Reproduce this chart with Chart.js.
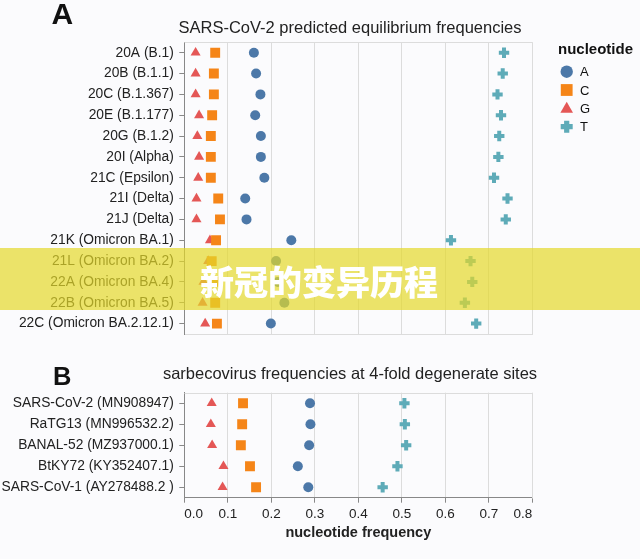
<!DOCTYPE html>
<html>
<head>
<meta charset="utf-8">
<script src="https://cdn.jsdelivr.net/npm/chart.js@4"></script>
<style>
html,body{margin:0;padding:0;width:640px;height:559px;overflow:hidden;background:#fbfbfd;font-family:"Liberation Sans",Arial,sans-serif;}
#wrap{position:relative;width:640px;height:559px;overflow:hidden;}
canvas{position:absolute;left:0;}
#cA{top:0;}
#cB{top:350px;}
#banner{position:absolute;left:0;top:248px;width:640px;height:62px;background:rgba(228,216,42,0.7);z-index:5;}
#bannerText{position:absolute;left:200px;top:264px;font-family:"Noto Sans CJK SC",sans-serif;font-weight:900;font-size:34px;line-height:34px;color:#fff;z-index:6;white-space:nowrap;}
#overlay{position:absolute;left:0;top:0;z-index:3;}
</style>
</head>
<body>
<div id="wrap">
<canvas id="cA" width="640" height="348"></canvas>
<canvas id="cB" width="640" height="209"></canvas>
<svg id="overlay" width="640" height="559"></svg>
<div id="banner"></div>
<div id="bannerText">新冠的变异历程</div>
</div>
<script>
// ---- data ----
const nucleotides = ['A', 'C', 'G', 'T'];
const nucleotideColors = ['#4c78a8', '#f58518', '#e45756', '#5eabb8'];

const categoriesA = ['20A (B.1)', '20B (B.1.1)', '20C (B.1.367)', '20E (B.1.177)', '20G (B.1.2)', '20I (Alpha)', '21C (Epsilon)', '21I (Delta)', '21J (Delta)', '21K (Omicron BA.1)', '21L (Omicron BA.2)', '22A (Omicron BA.4)', '22B (Omicron BA.5)', '22C (Omicron BA.2.12.1)'];
const freqA_A = [0.160, 0.165, 0.175, 0.163, 0.176, 0.176, 0.184, 0.140, 0.143, 0.246, 0.211, 0.215, 0.230, 0.199];
const freqA_C = [0.071, 0.068, 0.068, 0.064, 0.061, 0.061, 0.061, 0.078, 0.082, 0.073, 0.063, 0.067, 0.071, 0.075];
const freqA_G = [0.026, 0.026, 0.026, 0.034, 0.030, 0.034, 0.032, 0.028, 0.028, 0.059, 0.055, 0.044, 0.042, 0.048];
const freqA_T = [0.735, 0.732, 0.720, 0.728, 0.724, 0.722, 0.712, 0.743, 0.739, 0.613, 0.658, 0.662, 0.645, 0.671];

const categoriesB = ['SARS-CoV-2 (MN908947)', 'RaTG13 (MN996532.2)', 'BANAL-52 (MZ937000.1)', 'BtKY72 (KY352407.1)', 'SARS-CoV-1 (AY278488.2 )'];
const freqB_A = [0.289, 0.290, 0.287, 0.261, 0.285];
const freqB_C = [0.135, 0.133, 0.130, 0.151, 0.165];
const freqB_G = [0.063, 0.061, 0.064, 0.090, 0.088];
const freqB_T = [0.506, 0.507, 0.510, 0.490, 0.456];

const xTickValues = [0.0, 0.1, 0.2, 0.3, 0.4, 0.5, 0.6, 0.7, 0.8];
const titleA = 'SARS-CoV-2 predicted equilibrium frequencies';
const titleB = 'sarbecovirus frequencies at 4-fold degenerate sites';
const xAxisTitle = 'nucleotide frequency';
const legendTitle = 'nucleotide';
const panelLabels = ['A', 'B'];

// ---- styling ----
const FONT = '"Liberation Sans", Arial, sans-serif';
const pointStyles = ['circle', 'rect', 'triangle', 'cross'];
const pointRadii = [5, 7, 5.8, 5.2];
const PLOT_LEFT = 184.3, PLOT_RIGHT = 532.3, CANVAS_W = 640, TITLE_CENTER = 350;

function buildDatasets(cats, seriesList) {
  return seriesList.map((vals, i) => ({
    label: nucleotides[i],
    data: vals.map((v, j) => ({ x: v, y: cats[j] })),
    showLine: false,
    pointStyle: pointStyles[i],
    pointRadius: pointRadii[i],
    backgroundColor: nucleotideColors[i],
    borderColor: nucleotideColors[i],
    borderWidth: i === 3 ? 4 : 0,
    order: i
  }));
}

const framePlugin = {
  id: 'frame',
  beforeDatasetsDraw(chart) {
    const { ctx, chartArea: a } = chart;
    ctx.save();
    ctx.strokeStyle = '#dcdcdc';
    ctx.lineWidth = 1;
    ctx.beginPath();
    ctx.moveTo(Math.round(a.left) + 0.5, Math.round(a.top) + 0.5);
    ctx.lineTo(Math.round(a.right) + 0.5, Math.round(a.top) + 0.5);
    ctx.lineTo(Math.round(a.right) + 0.5, Math.round(a.bottom) + 0.5);
    ctx.stroke();
    ctx.restore();
  }
};

// title drawn centred at a fixed x (the original's title is offset from the plot centre)
const panelTitlePlugin = {
  id: 'panelTitle',
  afterDraw(chart, args, opts) {
    const ctx = chart.ctx;
    ctx.save();
    ctx.font = '16.5px ' + FONT;
    ctx.fillStyle = '#222';
    ctx.textAlign = 'center';
    ctx.textBaseline = 'alphabetic';
    ctx.fillText(opts.text, opts.x, opts.baseline);
    ctx.restore();
  }
};

function makeChart(id, cats, seriesList, title, titleBaseline, plotTop, showXAxis, xHeight) {
  return new Chart(document.getElementById(id), {
    type: 'line',
    data: { datasets: buildDatasets(cats, seriesList) },
    plugins: [framePlugin, panelTitlePlugin],
    options: {
      responsive: false,
      animation: false,
      events: [],
      layout: { padding: { left: 0, right: CANVAS_W - PLOT_RIGHT, top: plotTop, bottom: 0 } },
      plugins: {
        legend: { display: false },
        tooltip: { enabled: false },
        title: { display: false },
        panelTitle: { text: title, x: TITLE_CENTER, baseline: titleBaseline }
      },
      scales: {
        x: {
          type: 'linear', min: 0, max: 0.8,
          afterBuildTicks: (s) => { s.ticks = xTickValues.map(v => ({ value: v })); },
          afterFit: (s) => { s.height = xHeight; },
          grid: { color: '#dcdcdc', drawTicks: showXAxis, tickLength: 5, tickColor: '#888' },
          border: { color: showXAxis ? '#888' : '#dcdcdc' },
          ticks: {
            display: showXAxis, color: '#222', padding: 3, align: 'inner', maxRotation: 0, autoSkip: false,
            font: { family: FONT, size: 13.5 },
            callback: (v) => Number(v).toFixed(1)
          },
          title: {
            display: showXAxis, text: xAxisTitle, color: '#222',
            font: { family: FONT, size: 14.5, weight: 'bold' },
            padding: { top: 2, bottom: 17.3 }
          }
        },
        y: {
          type: 'category', labels: cats, offset: true,
          afterFit: (s) => { s.width = PLOT_LEFT; },
          grid: { drawOnChartArea: false, drawTicks: true, tickLength: 5, color: '#888' },
          border: { color: '#888' },
          ticks: { color: '#222', padding: 5.5, autoSkip: false, font: { family: FONT, size: 13.8 } }
        }
      }
    }
  });
}

makeChart('cA', categoriesA, [freqA_A, freqA_C, freqA_G, freqA_T], titleA, 33.3, 42.3, false, 14);
makeChart('cB', categoriesB, [freqB_A, freqB_C, freqB_G, freqB_T], titleB, 29.3, 42.7, true, 61.3);

// ---- panel letters + legend (SVG text) ----
(function () {
  const svg = document.getElementById('overlay');
  const NS = 'http://www.w3.org/2000/svg';
  function txt(x, y, s, size, weight, fill) {
    const t = document.createElementNS(NS, 'text');
    t.setAttribute('x', x); t.setAttribute('y', y);
    t.setAttribute('font-family', 'Liberation Sans, Arial, sans-serif');
    t.setAttribute('font-size', size); t.setAttribute('font-weight', weight); t.setAttribute('fill', fill);
    t.textContent = s;
    svg.appendChild(t);
  }
  txt(51.5, 24, panelLabels[0], 30, 'bold', '#111');
  txt(53, 385, panelLabels[1], 25.5, 'bold', '#111');
  txt(558, 54, legendTitle, 15, 'bold', '#111');
  const ys = [71.7, 90, 108.3, 126.7];
  const cx = 566.7;
  nucleotides.forEach((n, i) => {
    const y = ys[i];
    let el;
    if (i === 0) {
      el = document.createElementNS(NS, 'circle');
      el.setAttribute('cx', cx); el.setAttribute('cy', y); el.setAttribute('r', 6.2);
    } else if (i === 1) {
      el = document.createElementNS(NS, 'rect');
      el.setAttribute('x', cx - 5.9); el.setAttribute('y', y - 5.9); el.setAttribute('width', 11.8); el.setAttribute('height', 11.8);
    } else if (i === 2) {
      el = document.createElementNS(NS, 'polygon');
      el.setAttribute('points', `${cx},${y - 6.5} ${cx + 6.3},${y + 4.5} ${cx - 6.3},${y + 4.5}`);
    } else {
      el = document.createElementNS(NS, 'path');
      const a = 6, b = 2.6;
      el.setAttribute('d', `M${cx - b},${y - a} H${cx + b} V${y - b} H${cx + a} V${y + b} H${cx + b} V${y + a} H${cx - b} V${y + b} H${cx - a} V${y - b} H${cx - b} Z`);
    }
    el.setAttribute('fill', nucleotideColors[i]);
    svg.appendChild(el);
    txt(580, y + 4.6, n, 13, 'normal', '#111');
  });
})();
</script>
</body>
</html>
